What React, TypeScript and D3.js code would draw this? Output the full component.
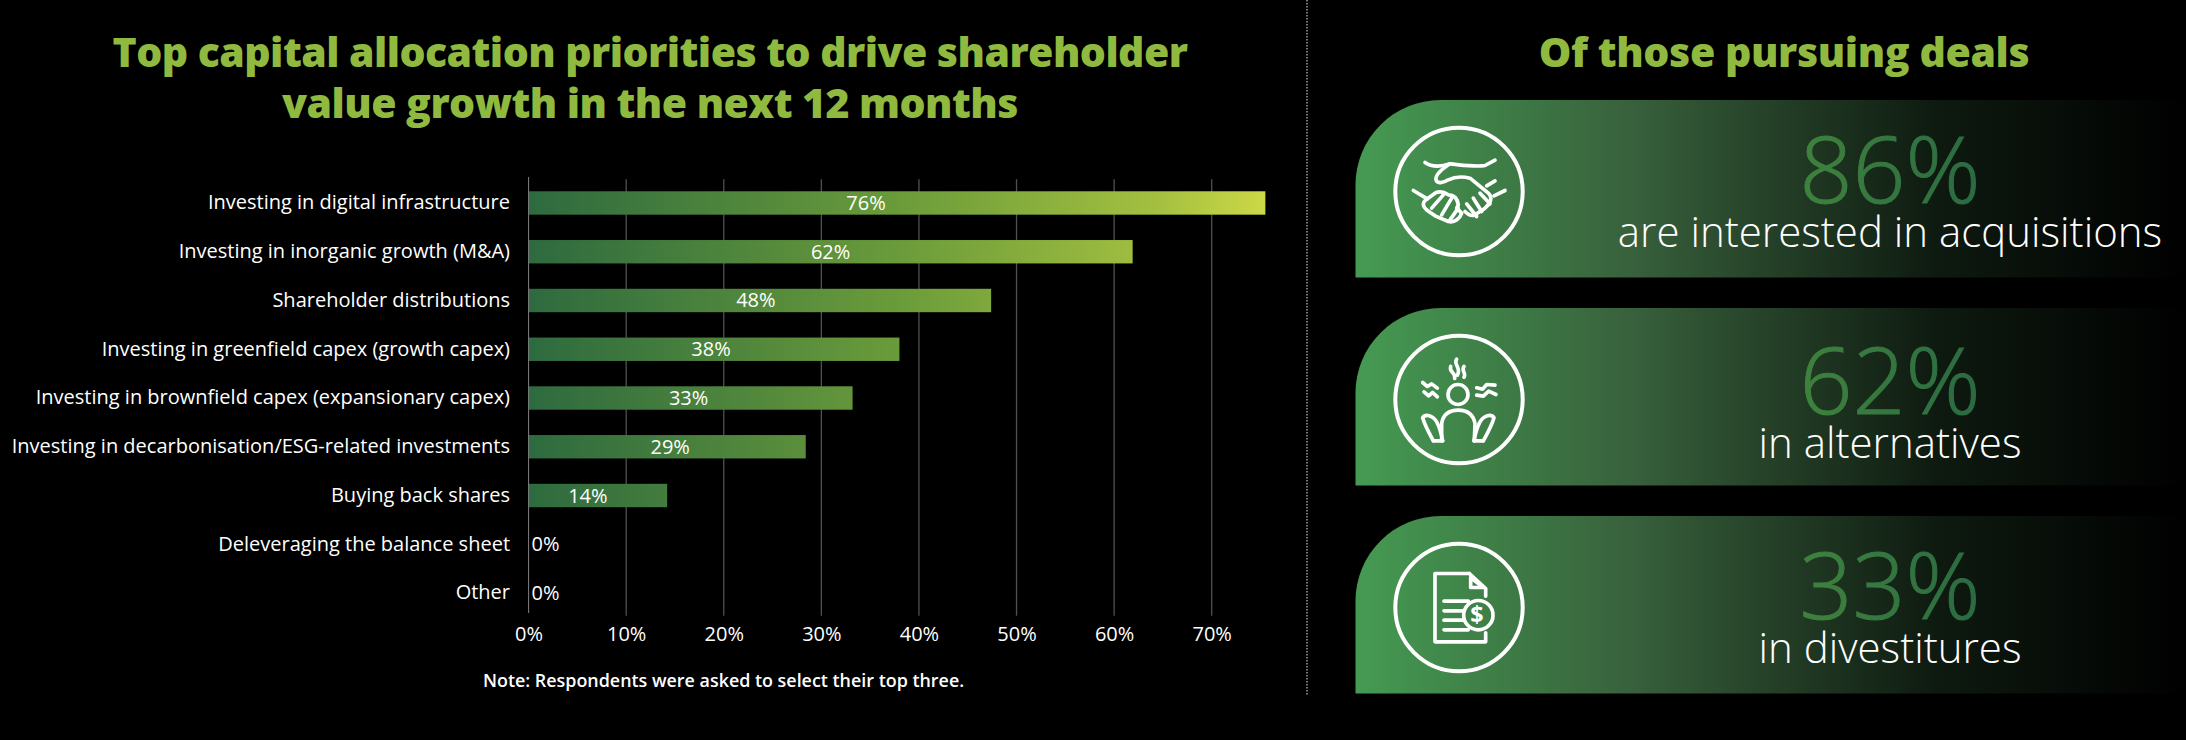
import React, { useEffect, useRef } from 'react'
import * as d3 from 'd3'

const categories: string[] = [
  'Investing in digital infrastructure',
  'Investing in inorganic growth (M&A)',
  'Shareholder distributions',
  'Investing in greenfield capex (growth capex)',
  'Investing in brownfield capex (expansionary capex)',
  'Investing in decarbonisation/ESG-related investments',
  'Buying back shares',
  'Deleveraging the balance sheet',
  'Other',
]
const values: number[] = [75.5, 61.9, 47.4, 38, 33.2, 28.4, 14.2, 0, 0]
const valueLabels: string[] = ['76%', '62%', '48%', '38%', '33%', '29%', '14%', '0%', '0%']
const xTicks: number[] = [0, 10, 20, 30, 40, 50, 60, 70]

const dealValues: string[] = ['86%', '62%', '33%']
const dealTexts: string[] = ['are interested in acquisitions', 'in alternatives', 'in divestitures']

const titleLines: string[] = ['Top capital allocation priorities to drive shareholder', 'value growth in the next 12 months']
const sideTitle = 'Of those pursuing deals'
const note = 'Note: Respondents were asked to select their top three.'

const FONT = '"Open Sans", sans-serif'
const GREEN = '#8fb93f'
// the labels in the source are not quite centred in the bars
const labelNudge = [-31, 0, -4, -3, -2, 3, -10]
// the text of the middle card sits a little lower
const cardTextNudge = [0, 2.5, 0]

// icon paths are in a 3x pixel grid, centred on iconCentres[i]
const iconCentres = [[417, 335], [357, 313], [357, 302]]
const iconPaths: string[][] = [
  [
    'M315 248 C335 262 360 262 390 252 C430 256 470 262 495 257 L525 241',
    'M390 252 C370 265 345 285 348 300 C352 312 370 310 385 300 C405 290 430 290 450 295 L505 340 C520 355 510 372 495 385 L465 405 C455 410 445 405 435 395',
    'M500 318 L525 303',
    'M522 348 L555 332',
    'M280 332 L322 357',
    'M345 340 L320 358 C305 370 308 380 322 392 L345 408 L385 425 C405 430 420 415 425 400 L410 385 L415 375 C412 355 400 345 385 345 C370 335 355 335 345 340',
    'M370 345 L335 385',
    'M395 355 L365 405',
    'M415 385 L390 420',
    'M480 340 L510 372',
    'M460 355 L485 395',
    'M440 372 L470 410',
  ],
  [
    'M350 192 C338 208 366 218 352 240',
    'M332 214 C326 232 348 232 344 250',
    'M372 214 C362 226 380 234 372 246',
    'M248 262 L262 274 L275 266 L292 279',
    'M252 290 L266 302 L278 292 L292 305',
    'M410 278 L428 282 L440 268 L465 270',
    'M410 300 L430 303 L446 288 L468 298',
    'M305 435 L305 385 C310 355 330 345 355 345 C385 345 400 360 405 385 L403 435',
    'M280 437 C268 415 256 395 248 368 C256 355 278 360 290 380 C298 395 304 415 308 437',
    'M430 437 C442 415 454 395 462 368 C454 355 432 360 420 380 C412 395 406 415 402 437',
    'M280 437 L308 437',
    'M430 437 L402 437',
  ],
  [
    'M388 200 L285 200 L285 405 L437 405 L437 378',
    'M388 200 L437 245 L437 268',
    'M392 212 L392 242 L430 242 Z',
    'M312 283 L385 283',
    'M312 312 L370 312',
    'M312 340 L370 340',
    'M312 369 L385 369',
  ],
]

export default function App() {
  const svgRef = useRef<SVGSVGElement | null>(null)
  const width = 2186
  const height = 740

  useEffect(() => {
    const svg = d3.select(svgRef.current)
    svg.selectAll('*').remove()

    const defs = svg.append('defs')

    // Scales
    const xScale = d3.scaleLinear().domain([0, 70]).range([528.6, 1211.7])
    const yScale = d3.scaleBand<string>().domain(categories).range([178.6, 617.4]).paddingInner(0.52).paddingOuter(0.26)

    const barGrad = defs.append('linearGradient').attr('id', 'barGrad')
      .attr('gradientUnits', 'userSpaceOnUse')
      .attr('x1', xScale(0)).attr('x2', xScale(d3.max(values) ?? 0))
    barGrad.append('stop').attr('offset', '0').attr('stop-color', '#2d6a3f')
    barGrad.append('stop').attr('offset', '0.5').attr('stop-color', '#6a9b3a')
    barGrad.append('stop').attr('offset', '0.85').attr('stop-color', '#a3bf40')
    barGrad.append('stop').attr('offset', '1').attr('stop-color', '#ccd846')

    const cardGrad = defs.append('linearGradient').attr('id', 'cardGrad')
    cardGrad.append('stop').attr('offset', '0').attr('stop-color', '#459b52')
    cardGrad.append('stop').attr('offset', '0.33').attr('stop-color', '#38613c')
    cardGrad.append('stop').attr('offset', '0.7').attr('stop-color', '#0e1a10')
    cardGrad.append('stop').attr('offset', '1').attr('stop-color', '#000000')

    const numGrad = defs.append('linearGradient').attr('id', 'numGrad')
    numGrad.append('stop').attr('offset', '0').attr('stop-color', '#3f823d')
    numGrad.append('stop').attr('offset', '1').attr('stop-color', '#2a6a42')

    // Titles
    svg.append('g').selectAll('text').data(titleLines).join('text')
      .attr('x', 650).attr('y', (_, i) => 67 + i * 51)
      .attr('text-anchor', 'middle').attr('fill', GREEN)
      .attr('font-size', 41).attr('font-weight', 800).attr('letter-spacing', -0.55).text((d) => d)
    svg.append('text').attr('x', 1784).attr('y', 67)
      .attr('text-anchor', 'middle').attr('fill', GREEN)
      .attr('font-size', 41).attr('font-weight', 800).attr('letter-spacing', -0.4).text(sideTitle)

    // Grid and x axis
    const xAxis = d3.axisBottom(xScale).tickValues(xTicks).tickFormat((d) => `${d}%`).tickSize(0).tickPadding(10)
    const xG = svg.append('g').attr('transform', 'translate(0, 617)').call(xAxis)
    xG.select('.domain').remove()
    xG.selectAll('text').attr('fill', '#fff').attr('font-size', 20).attr('font-family', FONT)
    svg.append('g').selectAll('line').data(xTicks.slice(1)).join('line')
      .attr('x1', (d) => xScale(d)).attr('x2', (d) => xScale(d))
      .attr('y1', 179.3).attr('y2', 615.7)
      .attr('stroke', '#505050').attr('stroke-width', 1.3)

    // Bars
    const rows = categories.map((c, i) => ({ c, v: values[i], label: valueLabels[i], i }))
    svg.append('g').selectAll('rect').data(rows).join('rect')
      .attr('x', xScale(0))
      .attr('y', (d) => yScale(d.c)!)
      .attr('width', (d) => xScale(d.v) - xScale(0))
      .attr('height', yScale.bandwidth())
      .attr('fill', 'url(#barGrad)')

    // Category axis
    const yAxis = d3.axisLeft(yScale).tickSize(0).tickPadding(18.6)
    const yG = svg.append('g').attr('transform', `translate(${xScale(0)}, 0)`).call(yAxis)
    yG.select('.domain').remove()
    yG.selectAll('text').attr('fill', '#fff').attr('font-size', 20).attr('font-family', FONT)
    svg.append('line').attr('x1', xScale(0)).attr('x2', xScale(0)).attr('y1', 177).attr('y2', 613)
      .attr('stroke', '#808080').attr('stroke-width', 1)

    // Bar labels
    svg.append('g').selectAll('text').data(rows).join('text')
      .attr('x', (d) => d.v > 0 ? xScale(d.v / 2) + labelNudge[d.i] : xScale(0) + 3)
      .attr('y', (d) => yScale(d.c)! + yScale.bandwidth() / 2)
      .attr('dy', '0.35em')
      .attr('text-anchor', (d) => d.v > 0 ? 'middle' : 'start')
      .attr('fill', '#fff').attr('font-size', 20).text((d) => d.label)

    svg.append('text').attr('x', 483).attr('y', 687)
      .attr('fill', '#fff').attr('font-size', 17.9).attr('font-weight', 600).text(note)

    // Divider
    svg.append('line').attr('x1', 1307).attr('x2', 1307).attr('y1', 0).attr('y2', 695)
      .attr('stroke', '#777').attr('stroke-width', 2).attr('stroke-dasharray', '1.5 1.5')

    // Deal cards
    const cardH = 177.5
    const cardX = 1355.5
    const cardR = 85
    const cards = svg.append('g').selectAll('g').data(dealValues).join('g')
      .attr('transform', (_, i) => `translate(0, ${100 + i * 208})`)
    cards.append('path')
      .attr('d', `M${cardX} ${cardH} V${cardR} A${cardR} ${cardR} 0 0 1 ${cardX + cardR} 0 H${width} V${cardH} Z`)
      .attr('fill', 'url(#cardGrad)')
    cards.append('circle').attr('cx', 1459).attr('cy', 91.5).attr('r', 63.7)
      .attr('fill', 'none').attr('stroke', '#fff').attr('stroke-width', 4)
    // light weight with a thin outline, the source is a bit heavier than Open Sans Light
    cards.append('text').attr('x', 1890).attr('y', (_, i) => 103 + cardTextNudge[i])
      .attr('text-anchor', 'middle').attr('font-size', 93).attr('font-weight', 300)
      .attr('fill', 'url(#numGrad)').attr('stroke', 'url(#numGrad)').attr('stroke-width', 1)
      .text((d) => d)
    cards.append('text').attr('x', 1890).attr('y', (_, i) => 147 + cardTextNudge[i])
      .attr('text-anchor', 'middle').attr('font-size', 42).attr('font-weight', 300)
      .attr('fill', '#fff').text((_, i) => dealTexts[i])

    // Icons
    cards.each(function (_, i) {
      const [cx, cy] = iconCentres[i]
      const ic = d3.select(this).append('g')
        .attr('transform', `translate(1459, 91.5) scale(${1 / 3}) translate(${-cx}, ${-cy})`)
        .attr('fill', 'none').attr('stroke', '#fff').attr('stroke-width', 11)
        .attr('stroke-linecap', 'round').attr('stroke-linejoin', 'round')
      ic.selectAll('path').data(iconPaths[i]).join('path').attr('d', (d) => d)
      if (i === 1) ic.append('circle').attr('cx', 354).attr('cy', 298).attr('r', 30)
      if (i === 2) {
        ic.append('circle').attr('cx', 415).attr('cy', 325).attr('r', 44)
        ic.append('text').attr('x', 411).attr('y', 350).attr('text-anchor', 'middle')
          .attr('font-size', 70).attr('font-weight', 700).attr('fill', '#fff').attr('stroke', 'none').text('$')
      }
    })
  }, [])

  return (
    <svg
      ref={svgRef}
      width={width}
      height={height}
      style={{ position: 'absolute', left: 0, top: 0, background: '#000', fontFamily: FONT }}
    />
  )
}
